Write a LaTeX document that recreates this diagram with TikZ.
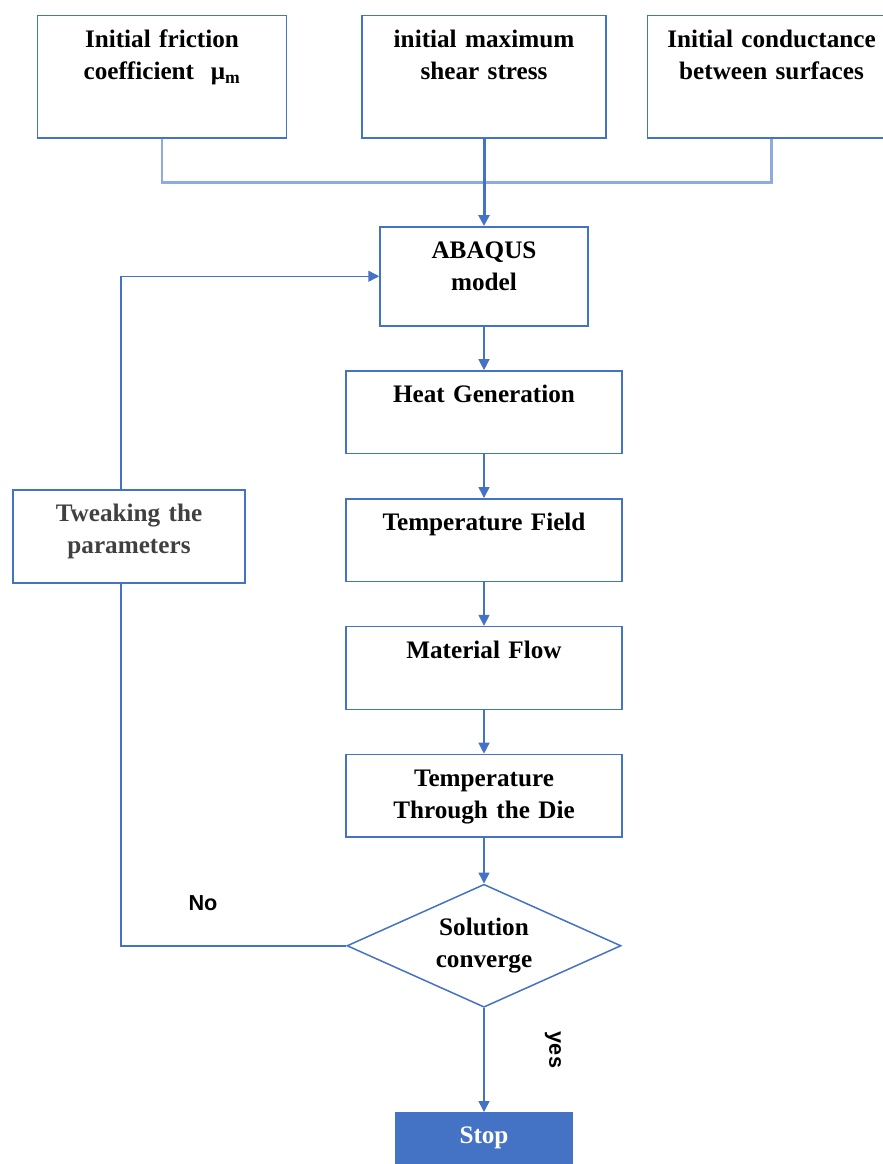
\documentclass[tikz,border=0pt]{standalone}
\usepackage{fontspec}
\setmainfont{Liberation Serif}
\setsansfont{Liberation Sans}
\usetikzlibrary{positioning,shapes.geometric,arrows.meta}

\definecolor{flowblue}{HTML}{4472C4}
\definecolor{feedblue}{HTML}{8FAADC}
\definecolor{tweakgray}{HTML}{404040}
\newcommand{\boxfont}{\fontsize{21.5}{27.3}\selectfont\bfseries}
\newcommand{\tagfont}{\fontsize{18.5}{22}\selectfont\sffamily\bfseries}

\begin{document}
\begin{tikzpicture}[x=0.3mm, y=-0.3mm, node distance=13.1mm, >={Triangle[length=3.3mm,width=3.3mm]},
  flowbox/.style={draw=flowblue, line width=0.45mm, inner sep=0pt, align=center, text height=9.6mm, font=\boxfont},
  inbox/.style={flowbox, text depth=27mm},
  procbox/.style={flowbox, text width=82.8mm, text depth=15.2mm},
  decision/.style={diamond, draw=flowblue, line width=0.45mm, inner sep=0pt, aspect=2.23, minimum width=82.2mm, minimum height=36.9mm, align=center, font=\boxfont},
  stopbox/.style={fill=flowblue, text=white, inner sep=0pt, text width=53.4mm, align=center, text height=9.3mm, text depth=8mm, font=\boxfont},
  flow/.style={draw=flowblue, line width=0.45mm},
  tag/.style={font=\tagfont}]
	\useasboundingbox (0,0) rectangle (883,1164);
	% inputs
	\node[inbox, text width=73.2mm, anchor=north] (shear) at (484,15) {initial maximum\\shear stress};
	\node[inbox, text width=74.7mm] (fric) [left=22.2mm of shear] {Initial friction\\coefficient\ \ μ\textsubscript{m}};
	\node[inbox, text width=74.4mm] (cond) [right=12mm of shear] {Initial conductance\\between surfaces};
	% simulation chain
	\node[flowbox, text width=62.4mm, text depth=20.1mm, anchor=north] (abaqus) at (484,226) {ABAQUS\\model};
	\node[procbox] (heat) [below=of abaqus] {Heat Generation};
	\node[procbox] (tfield) [below=of heat] {Temperature Field};
	\node[procbox] (mflow) [below=of tfield] {Material Flow};
	\node[procbox] (tdie) [below=of mflow] {Temperature\\Through the Die};
	\node[decision] (sol) [below=13.7mm of tdie] {Solution\\converge};
	\node[stopbox] (stop) [below=31.2mm of sol] {Stop};
	\node[flowbox, text width=69.6mm, text depth=18.3mm, text=tweakgray, anchor=north] (tweak) at (129,489) {Tweaking the\\parameters};
	\node[tag] (no) at (203,903) {No};
	\node[tag, rotate=-90] (yes) at (553,1050) {yes};
	% connectors
	\draw[draw=feedblue, line width=0.7mm] (fric.south) -- ++(0,44) -| (cond.south);
	\draw[flow, line width=0.9mm, ->] (shear) -- (abaqus);
	\draw[flow,->] (abaqus) -- (heat);
	\draw[flow,->] (heat) -- (tfield);
	\draw[flow,->] (tfield) -- (mflow);
	\draw[flow,->] (mflow) -- (tdie);
	\draw[flow,->] (tdie) -- (sol);
	\draw[flow,->] (sol) -- (stop);
	\draw[flow] (sol.west) -| ([xshift=-2.4mm]tweak.south);
	\draw[flow,->] ([xshift=-2.4mm]tweak.north) |- (abaqus.west);
\end{tikzpicture}
\end{document}
